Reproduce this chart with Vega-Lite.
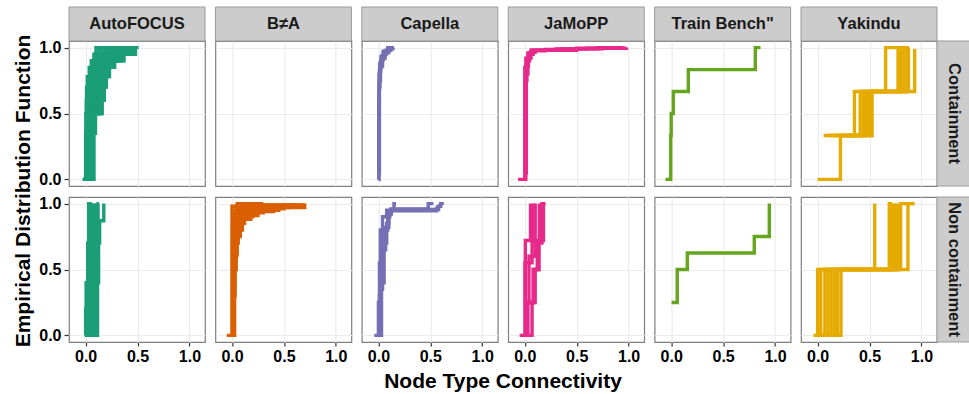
{
"$schema": "https://vega.github.io/schema/vega-lite/v6.json",
"background": "white",
"padding": {"left": 12, "top": 5, "right": 0, "bottom": 0},
"config": {"font": "Liberation Sans", "view": {"stroke": "#7f7f7f", "strokeWidth": 1.2}},
"data": {"values": [
{"m":"AutoFOCUS","t":"Containment","k":"c"},
{"m":"B≠A","t":"Containment","k":"c"},
{"m":"Capella","t":"Containment","k":"c"},
{"m":"JaMoPP","t":"Containment","k":"c"},
{"m":"Train Bench\"","t":"Containment","k":"c"},
{"m":"Yakindu","t":"Containment","k":"c"},
{"m":"Yakindu","t":"Containment","k":"r"},
{"m":"Yakindu","t":"Non containment","k":"r"},
{"m":"AutoFOCUS","t":"Containment","k":"L"},
{"m":"AutoFOCUS","t":"Non containment","k":"B"},
{"m":"B≠A","t":"Non containment","k":"e"},

{"m":"AutoFOCUS","t":"Containment","s":"a0","x":-0.03,"y":0},
{"m":"AutoFOCUS","t":"Containment","s":"a0","x":0.0,"y":0.35},
{"m":"AutoFOCUS","t":"Containment","s":"a0","x":0.002,"y":0.5},
{"m":"AutoFOCUS","t":"Containment","s":"a0","x":0.006,"y":0.6},
{"m":"AutoFOCUS","t":"Containment","s":"a0","x":0.009,"y":0.7},
{"m":"AutoFOCUS","t":"Containment","s":"a0","x":0.016,"y":0.78},
{"m":"AutoFOCUS","t":"Containment","s":"a0","x":0.035,"y":0.85},
{"m":"AutoFOCUS","t":"Containment","s":"a0","x":0.055,"y":0.9},
{"m":"AutoFOCUS","t":"Containment","s":"a0","x":0.08,"y":0.95},
{"m":"AutoFOCUS","t":"Containment","s":"a0","x":0.1,"y":1},
{"m":"AutoFOCUS","t":"Containment","s":"a0","x":0.12,"y":1},
{"m":"AutoFOCUS","t":"Containment","s":"a0h","x":-0.025,"y":0},
{"m":"AutoFOCUS","t":"Containment","s":"a0h","x":0.006,"y":0.35},
{"m":"AutoFOCUS","t":"Containment","s":"a0h","x":0.009,"y":0.5},
{"m":"AutoFOCUS","t":"Containment","s":"a0h","x":0.018,"y":0.6},
{"m":"AutoFOCUS","t":"Containment","s":"a0h","x":0.022,"y":0.7},
{"m":"AutoFOCUS","t":"Containment","s":"a0h","x":0.03,"y":0.78},
{"m":"AutoFOCUS","t":"Containment","s":"a0h","x":0.05,"y":0.85},
{"m":"AutoFOCUS","t":"Containment","s":"a0h","x":0.072,"y":0.9},
{"m":"AutoFOCUS","t":"Containment","s":"a0h","x":0.102,"y":0.95},
{"m":"AutoFOCUS","t":"Containment","s":"a0h","x":0.129,"y":1},
{"m":"AutoFOCUS","t":"Containment","s":"a0h","x":0.149,"y":1},
{"m":"AutoFOCUS","t":"Containment","s":"a1","x":-0.02,"y":0},
{"m":"AutoFOCUS","t":"Containment","s":"a1","x":0.012,"y":0.35},
{"m":"AutoFOCUS","t":"Containment","s":"a1","x":0.016,"y":0.5},
{"m":"AutoFOCUS","t":"Containment","s":"a1","x":0.029,"y":0.6},
{"m":"AutoFOCUS","t":"Containment","s":"a1","x":0.035,"y":0.7},
{"m":"AutoFOCUS","t":"Containment","s":"a1","x":0.044,"y":0.78},
{"m":"AutoFOCUS","t":"Containment","s":"a1","x":0.064,"y":0.85},
{"m":"AutoFOCUS","t":"Containment","s":"a1","x":0.089,"y":0.9},
{"m":"AutoFOCUS","t":"Containment","s":"a1","x":0.124,"y":0.95},
{"m":"AutoFOCUS","t":"Containment","s":"a1","x":0.157,"y":1},
{"m":"AutoFOCUS","t":"Containment","s":"a1","x":0.179,"y":1},
{"m":"AutoFOCUS","t":"Containment","s":"a1h","x":-0.015,"y":0},
{"m":"AutoFOCUS","t":"Containment","s":"a1h","x":0.018,"y":0.35},
{"m":"AutoFOCUS","t":"Containment","s":"a1h","x":0.023,"y":0.5},
{"m":"AutoFOCUS","t":"Containment","s":"a1h","x":0.041,"y":0.6},
{"m":"AutoFOCUS","t":"Containment","s":"a1h","x":0.047,"y":0.7},
{"m":"AutoFOCUS","t":"Containment","s":"a1h","x":0.057,"y":0.78},
{"m":"AutoFOCUS","t":"Containment","s":"a1h","x":0.079,"y":0.85},
{"m":"AutoFOCUS","t":"Containment","s":"a1h","x":0.106,"y":0.9},
{"m":"AutoFOCUS","t":"Containment","s":"a1h","x":0.145,"y":0.95},
{"m":"AutoFOCUS","t":"Containment","s":"a1h","x":0.186,"y":1},
{"m":"AutoFOCUS","t":"Containment","s":"a1h","x":0.208,"y":1},
{"m":"AutoFOCUS","t":"Containment","s":"a2","x":-0.01,"y":0},
{"m":"AutoFOCUS","t":"Containment","s":"a2","x":0.024,"y":0.35},
{"m":"AutoFOCUS","t":"Containment","s":"a2","x":0.03,"y":0.5},
{"m":"AutoFOCUS","t":"Containment","s":"a2","x":0.052,"y":0.6},
{"m":"AutoFOCUS","t":"Containment","s":"a2","x":0.06,"y":0.7},
{"m":"AutoFOCUS","t":"Containment","s":"a2","x":0.071,"y":0.78},
{"m":"AutoFOCUS","t":"Containment","s":"a2","x":0.094,"y":0.85},
{"m":"AutoFOCUS","t":"Containment","s":"a2","x":0.123,"y":0.9},
{"m":"AutoFOCUS","t":"Containment","s":"a2","x":0.167,"y":0.95},
{"m":"AutoFOCUS","t":"Containment","s":"a2","x":0.214,"y":1},
{"m":"AutoFOCUS","t":"Containment","s":"a2","x":0.237,"y":1},
{"m":"AutoFOCUS","t":"Containment","s":"a2h","x":-0.005,"y":0},
{"m":"AutoFOCUS","t":"Containment","s":"a2h","x":0.03,"y":0.35},
{"m":"AutoFOCUS","t":"Containment","s":"a2h","x":0.037,"y":0.5},
{"m":"AutoFOCUS","t":"Containment","s":"a2h","x":0.064,"y":0.6},
{"m":"AutoFOCUS","t":"Containment","s":"a2h","x":0.073,"y":0.7},
{"m":"AutoFOCUS","t":"Containment","s":"a2h","x":0.085,"y":0.78},
{"m":"AutoFOCUS","t":"Containment","s":"a2h","x":0.108,"y":0.85},
{"m":"AutoFOCUS","t":"Containment","s":"a2h","x":0.139,"y":0.9},
{"m":"AutoFOCUS","t":"Containment","s":"a2h","x":0.189,"y":0.95},
{"m":"AutoFOCUS","t":"Containment","s":"a2h","x":0.243,"y":1},
{"m":"AutoFOCUS","t":"Containment","s":"a2h","x":0.266,"y":1},
{"m":"AutoFOCUS","t":"Containment","s":"a3","x":0.0,"y":0},
{"m":"AutoFOCUS","t":"Containment","s":"a3","x":0.036,"y":0.35},
{"m":"AutoFOCUS","t":"Containment","s":"a3","x":0.044,"y":0.5},
{"m":"AutoFOCUS","t":"Containment","s":"a3","x":0.075,"y":0.6},
{"m":"AutoFOCUS","t":"Containment","s":"a3","x":0.086,"y":0.7},
{"m":"AutoFOCUS","t":"Containment","s":"a3","x":0.099,"y":0.78},
{"m":"AutoFOCUS","t":"Containment","s":"a3","x":0.123,"y":0.85},
{"m":"AutoFOCUS","t":"Containment","s":"a3","x":0.156,"y":0.9},
{"m":"AutoFOCUS","t":"Containment","s":"a3","x":0.211,"y":0.95},
{"m":"AutoFOCUS","t":"Containment","s":"a3","x":0.271,"y":1},
{"m":"AutoFOCUS","t":"Containment","s":"a3","x":0.296,"y":1},
{"m":"AutoFOCUS","t":"Containment","s":"a3h","x":0.002,"y":0},
{"m":"AutoFOCUS","t":"Containment","s":"a3h","x":0.042,"y":0.35},
{"m":"AutoFOCUS","t":"Containment","s":"a3h","x":0.051,"y":0.5},
{"m":"AutoFOCUS","t":"Containment","s":"a3h","x":0.087,"y":0.6},
{"m":"AutoFOCUS","t":"Containment","s":"a3h","x":0.099,"y":0.7},
{"m":"AutoFOCUS","t":"Containment","s":"a3h","x":0.113,"y":0.78},
{"m":"AutoFOCUS","t":"Containment","s":"a3h","x":0.137,"y":0.85},
{"m":"AutoFOCUS","t":"Containment","s":"a3h","x":0.173,"y":0.9},
{"m":"AutoFOCUS","t":"Containment","s":"a3h","x":0.232,"y":0.95},
{"m":"AutoFOCUS","t":"Containment","s":"a3h","x":0.3,"y":1},
{"m":"AutoFOCUS","t":"Containment","s":"a3h","x":0.325,"y":1},
{"m":"AutoFOCUS","t":"Containment","s":"a4","x":0.005,"y":0},
{"m":"AutoFOCUS","t":"Containment","s":"a4","x":0.048,"y":0.35},
{"m":"AutoFOCUS","t":"Containment","s":"a4","x":0.058,"y":0.5},
{"m":"AutoFOCUS","t":"Containment","s":"a4","x":0.098,"y":0.6},
{"m":"AutoFOCUS","t":"Containment","s":"a4","x":0.112,"y":0.7},
{"m":"AutoFOCUS","t":"Containment","s":"a4","x":0.126,"y":0.78},
{"m":"AutoFOCUS","t":"Containment","s":"a4","x":0.152,"y":0.85},
{"m":"AutoFOCUS","t":"Containment","s":"a4","x":0.19,"y":0.9},
{"m":"AutoFOCUS","t":"Containment","s":"a4","x":0.254,"y":0.95},
{"m":"AutoFOCUS","t":"Containment","s":"a4","x":0.328,"y":1},
{"m":"AutoFOCUS","t":"Containment","s":"a4","x":0.354,"y":1},
{"m":"AutoFOCUS","t":"Containment","s":"a4h","x":0.008,"y":0},
{"m":"AutoFOCUS","t":"Containment","s":"a4h","x":0.054,"y":0.35},
{"m":"AutoFOCUS","t":"Containment","s":"a4h","x":0.065,"y":0.5},
{"m":"AutoFOCUS","t":"Containment","s":"a4h","x":0.11,"y":0.6},
{"m":"AutoFOCUS","t":"Containment","s":"a4h","x":0.124,"y":0.7},
{"m":"AutoFOCUS","t":"Containment","s":"a4h","x":0.14,"y":0.78},
{"m":"AutoFOCUS","t":"Containment","s":"a4h","x":0.167,"y":0.85},
{"m":"AutoFOCUS","t":"Containment","s":"a4h","x":0.207,"y":0.9},
{"m":"AutoFOCUS","t":"Containment","s":"a4h","x":0.276,"y":0.95},
{"m":"AutoFOCUS","t":"Containment","s":"a4h","x":0.357,"y":1},
{"m":"AutoFOCUS","t":"Containment","s":"a4h","x":0.383,"y":1},
{"m":"AutoFOCUS","t":"Containment","s":"a5","x":0.01,"y":0},
{"m":"AutoFOCUS","t":"Containment","s":"a5","x":0.06,"y":0.35},
{"m":"AutoFOCUS","t":"Containment","s":"a5","x":0.072,"y":0.5},
{"m":"AutoFOCUS","t":"Containment","s":"a5","x":0.122,"y":0.6},
{"m":"AutoFOCUS","t":"Containment","s":"a5","x":0.137,"y":0.7},
{"m":"AutoFOCUS","t":"Containment","s":"a5","x":0.154,"y":0.78},
{"m":"AutoFOCUS","t":"Containment","s":"a5","x":0.181,"y":0.85},
{"m":"AutoFOCUS","t":"Containment","s":"a5","x":0.224,"y":0.9},
{"m":"AutoFOCUS","t":"Containment","s":"a5","x":0.298,"y":0.95},
{"m":"AutoFOCUS","t":"Containment","s":"a5","x":0.385,"y":1},
{"m":"AutoFOCUS","t":"Containment","s":"a5","x":0.413,"y":1},
{"m":"AutoFOCUS","t":"Containment","s":"a5h","x":0.015,"y":0},
{"m":"AutoFOCUS","t":"Containment","s":"a5h","x":0.066,"y":0.35},
{"m":"AutoFOCUS","t":"Containment","s":"a5h","x":0.079,"y":0.5},
{"m":"AutoFOCUS","t":"Containment","s":"a5h","x":0.133,"y":0.6},
{"m":"AutoFOCUS","t":"Containment","s":"a5h","x":0.15,"y":0.7},
{"m":"AutoFOCUS","t":"Containment","s":"a5h","x":0.168,"y":0.78},
{"m":"AutoFOCUS","t":"Containment","s":"a5h","x":0.196,"y":0.85},
{"m":"AutoFOCUS","t":"Containment","s":"a5h","x":0.241,"y":0.9},
{"m":"AutoFOCUS","t":"Containment","s":"a5h","x":0.319,"y":0.95},
{"m":"AutoFOCUS","t":"Containment","s":"a5h","x":0.414,"y":1},
{"m":"AutoFOCUS","t":"Containment","s":"a5h","x":0.442,"y":1},
{"m":"AutoFOCUS","t":"Containment","s":"a6","x":0.02,"y":0},
{"m":"AutoFOCUS","t":"Containment","s":"a6","x":0.072,"y":0.35},
{"m":"AutoFOCUS","t":"Containment","s":"a6","x":0.086,"y":0.5},
{"m":"AutoFOCUS","t":"Containment","s":"a6","x":0.145,"y":0.6},
{"m":"AutoFOCUS","t":"Containment","s":"a6","x":0.163,"y":0.7},
{"m":"AutoFOCUS","t":"Containment","s":"a6","x":0.182,"y":0.78},
{"m":"AutoFOCUS","t":"Containment","s":"a6","x":0.211,"y":0.85},
{"m":"AutoFOCUS","t":"Containment","s":"a6","x":0.258,"y":0.9},
{"m":"AutoFOCUS","t":"Containment","s":"a6","x":0.341,"y":0.95},
{"m":"AutoFOCUS","t":"Containment","s":"a6","x":0.442,"y":1},
{"m":"AutoFOCUS","t":"Containment","s":"a6","x":0.471,"y":1},
{"m":"AutoFOCUS","t":"Containment","s":"a6h","x":0.025,"y":0},
{"m":"AutoFOCUS","t":"Containment","s":"a6h","x":0.076,"y":0.35},
{"m":"AutoFOCUS","t":"Containment","s":"a6h","x":0.09,"y":0.5},
{"m":"AutoFOCUS","t":"Containment","s":"a6h","x":0.152,"y":0.6},
{"m":"AutoFOCUS","t":"Containment","s":"a6h","x":0.171,"y":0.7},
{"m":"AutoFOCUS","t":"Containment","s":"a6h","x":0.191,"y":0.78},
{"m":"AutoFOCUS","t":"Containment","s":"a6h","x":0.22,"y":0.85},
{"m":"AutoFOCUS","t":"Containment","s":"a6h","x":0.269,"y":0.9},
{"m":"AutoFOCUS","t":"Containment","s":"a6h","x":0.356,"y":0.95},
{"m":"AutoFOCUS","t":"Containment","s":"a6h","x":0.461,"y":1},
{"m":"AutoFOCUS","t":"Containment","s":"a6h","x":0.491,"y":1},
{"m":"AutoFOCUS","t":"Containment","s":"a7","x":0.03,"y":0},
{"m":"AutoFOCUS","t":"Containment","s":"a7","x":0.08,"y":0.35},
{"m":"AutoFOCUS","t":"Containment","s":"a7","x":0.095,"y":0.5},
{"m":"AutoFOCUS","t":"Containment","s":"a7","x":0.16,"y":0.6},
{"m":"AutoFOCUS","t":"Containment","s":"a7","x":0.18,"y":0.7},
{"m":"AutoFOCUS","t":"Containment","s":"a7","x":0.2,"y":0.78},
{"m":"AutoFOCUS","t":"Containment","s":"a7","x":0.23,"y":0.85},
{"m":"AutoFOCUS","t":"Containment","s":"a7","x":0.28,"y":0.9},
{"m":"AutoFOCUS","t":"Containment","s":"a7","x":0.37,"y":0.95},
{"m":"AutoFOCUS","t":"Containment","s":"a7","x":0.48,"y":1},
{"m":"AutoFOCUS","t":"Containment","s":"a7","x":0.51,"y":1},

{"m":"AutoFOCUS","t":"Non containment","s":"b1","x":-0.01,"y":0},
{"m":"AutoFOCUS","t":"Non containment","s":"b1","x":0.0,"y":0.2},
{"m":"AutoFOCUS","t":"Non containment","s":"b1","x":0.005,"y":0.4},
{"m":"AutoFOCUS","t":"Non containment","s":"b1","x":0.02,"y":0.7},
{"m":"AutoFOCUS","t":"Non containment","s":"b1","x":0.03,"y":1},
{"m":"AutoFOCUS","t":"Non containment","s":"b1","x":0.06,"y":1},
{"m":"AutoFOCUS","t":"Non containment","s":"b2","x":0.0,"y":0},
{"m":"AutoFOCUS","t":"Non containment","s":"b2","x":0.012,"y":0.3},
{"m":"AutoFOCUS","t":"Non containment","s":"b2","x":0.028,"y":0.6},
{"m":"AutoFOCUS","t":"Non containment","s":"b2","x":0.045,"y":1},
{"m":"AutoFOCUS","t":"Non containment","s":"b3","x":0.02,"y":0},
{"m":"AutoFOCUS","t":"Non containment","s":"b3","x":0.03,"y":0.25},
{"m":"AutoFOCUS","t":"Non containment","s":"b3","x":0.05,"y":0.55},
{"m":"AutoFOCUS","t":"Non containment","s":"b3","x":0.06,"y":0.8},
{"m":"AutoFOCUS","t":"Non containment","s":"b3","x":0.07,"y":1},
{"m":"AutoFOCUS","t":"Non containment","s":"b4","x":0.03,"y":0},
{"m":"AutoFOCUS","t":"Non containment","s":"b4","x":0.045,"y":0.3},
{"m":"AutoFOCUS","t":"Non containment","s":"b4","x":0.065,"y":0.6},
{"m":"AutoFOCUS","t":"Non containment","s":"b4","x":0.082,"y":1},
{"m":"AutoFOCUS","t":"Non containment","s":"b5","x":0.05,"y":0},
{"m":"AutoFOCUS","t":"Non containment","s":"b5","x":0.065,"y":0.3},
{"m":"AutoFOCUS","t":"Non containment","s":"b5","x":0.088,"y":0.65},
{"m":"AutoFOCUS","t":"Non containment","s":"b5","x":0.1,"y":1},
{"m":"AutoFOCUS","t":"Non containment","s":"b6","x":0.07,"y":0},
{"m":"AutoFOCUS","t":"Non containment","s":"b6","x":0.09,"y":0.25},
{"m":"AutoFOCUS","t":"Non containment","s":"b6","x":0.108,"y":0.7},
{"m":"AutoFOCUS","t":"Non containment","s":"b6","x":0.12,"y":1},
{"m":"AutoFOCUS","t":"Non containment","s":"b6","x":0.13,"y":1},
{"m":"AutoFOCUS","t":"Non containment","s":"b7","x":0.09,"y":0},
{"m":"AutoFOCUS","t":"Non containment","s":"b7","x":0.115,"y":0.4},
{"m":"AutoFOCUS","t":"Non containment","s":"b7","x":0.125,"y":0.7},
{"m":"AutoFOCUS","t":"Non containment","s":"b7","x":0.135,"y":0.87},
{"m":"AutoFOCUS","t":"Non containment","s":"b7","x":0.175,"y":1},
{"m":"AutoFOCUS","t":"Non containment","s":"b8","x":0.01,"y":0},
{"m":"AutoFOCUS","t":"Non containment","s":"b8","x":0.022,"y":0.35},
{"m":"AutoFOCUS","t":"Non containment","s":"b8","x":0.04,"y":0.65},
{"m":"AutoFOCUS","t":"Non containment","s":"b8","x":0.055,"y":1},
{"m":"AutoFOCUS","t":"Non containment","s":"b9","x":0.06,"y":0},
{"m":"AutoFOCUS","t":"Non containment","s":"b9","x":0.078,"y":0.35},
{"m":"AutoFOCUS","t":"Non containment","s":"b9","x":0.097,"y":0.6},
{"m":"AutoFOCUS","t":"Non containment","s":"b9","x":0.11,"y":1},

{"m":"B≠A","t":"Non containment","s":"c1","x":-0.05,"y":0},
{"m":"B≠A","t":"Non containment","s":"c1","x":0.0,"y":0.98},
{"m":"B≠A","t":"Non containment","s":"c1","x":0.05,"y":1},
{"m":"B≠A","t":"Non containment","s":"c1","x":0.3,"y":1},
{"m":"B≠A","t":"Non containment","s":"c2","x":0.0,"y":0},
{"m":"B≠A","t":"Non containment","s":"c2","x":0.01,"y":0.5},
{"m":"B≠A","t":"Non containment","s":"c2","x":0.02,"y":0.8},
{"m":"B≠A","t":"Non containment","s":"c2","x":0.04,"y":0.93},
{"m":"B≠A","t":"Non containment","s":"c2","x":0.1,"y":0.97},
{"m":"B≠A","t":"Non containment","s":"c2","x":0.3,"y":0.99},
{"m":"B≠A","t":"Non containment","s":"c2","x":0.5,"y":1},
{"m":"B≠A","t":"Non containment","s":"c3","x":0.005,"y":0},
{"m":"B≠A","t":"Non containment","s":"c3","x":0.015,"y":0.4},
{"m":"B≠A","t":"Non containment","s":"c3","x":0.025,"y":0.7},
{"m":"B≠A","t":"Non containment","s":"c3","x":0.04,"y":0.85},
{"m":"B≠A","t":"Non containment","s":"c3","x":0.07,"y":0.92},
{"m":"B≠A","t":"Non containment","s":"c3","x":0.15,"y":0.96},
{"m":"B≠A","t":"Non containment","s":"c3","x":0.35,"y":0.98},
{"m":"B≠A","t":"Non containment","s":"c3","x":0.6,"y":1},
{"m":"B≠A","t":"Non containment","s":"c4","x":0.01,"y":0},
{"m":"B≠A","t":"Non containment","s":"c4","x":0.015,"y":0.3},
{"m":"B≠A","t":"Non containment","s":"c4","x":0.03,"y":0.62},
{"m":"B≠A","t":"Non containment","s":"c4","x":0.05,"y":0.75},
{"m":"B≠A","t":"Non containment","s":"c4","x":0.08,"y":0.85},
{"m":"B≠A","t":"Non containment","s":"c4","x":0.12,"y":0.9},
{"m":"B≠A","t":"Non containment","s":"c4","x":0.2,"y":0.94},
{"m":"B≠A","t":"Non containment","s":"c4","x":0.4,"y":0.97},
{"m":"B≠A","t":"Non containment","s":"c4","x":0.7,"y":1},
{"m":"B≠A","t":"Non containment","s":"c5","x":0.012,"y":0},
{"m":"B≠A","t":"Non containment","s":"c5","x":0.02,"y":0.5},
{"m":"B≠A","t":"Non containment","s":"c5","x":0.04,"y":0.7},
{"m":"B≠A","t":"Non containment","s":"c5","x":0.06,"y":0.8},
{"m":"B≠A","t":"Non containment","s":"c5","x":0.1,"y":0.88},
{"m":"B≠A","t":"Non containment","s":"c5","x":0.18,"y":0.93},
{"m":"B≠A","t":"Non containment","s":"c5","x":0.3,"y":0.96},
{"m":"B≠A","t":"Non containment","s":"c5","x":0.5,"y":0.98},
{"m":"B≠A","t":"Non containment","s":"c5","x":0.65,"y":1},
{"m":"B≠A","t":"Non containment","s":"c6","x":0.004,"y":0},
{"m":"B≠A","t":"Non containment","s":"c6","x":0.01,"y":0.6},
{"m":"B≠A","t":"Non containment","s":"c6","x":0.02,"y":0.85},
{"m":"B≠A","t":"Non containment","s":"c6","x":0.03,"y":0.9},
{"m":"B≠A","t":"Non containment","s":"c6","x":0.06,"y":0.95},
{"m":"B≠A","t":"Non containment","s":"c6","x":0.2,"y":0.98},
{"m":"B≠A","t":"Non containment","s":"c6","x":0.45,"y":0.99},
{"m":"B≠A","t":"Non containment","s":"c6","x":0.55,"y":1},
{"m":"B≠A","t":"Non containment","s":"c7","x":0.0,"y":0},
{"m":"B≠A","t":"Non containment","s":"c7","x":0.005,"y":0.7},
{"m":"B≠A","t":"Non containment","s":"c7","x":0.01,"y":0.9},
{"m":"B≠A","t":"Non containment","s":"c7","x":0.03,"y":0.95},
{"m":"B≠A","t":"Non containment","s":"c7","x":0.1,"y":0.98},
{"m":"B≠A","t":"Non containment","s":"c7","x":0.25,"y":1},
{"m":"B≠A","t":"Non containment","s":"c8","x":0.002,"y":0},
{"m":"B≠A","t":"Non containment","s":"c8","x":0.008,"y":0.55},
{"m":"B≠A","t":"Non containment","s":"c8","x":0.015,"y":0.78},
{"m":"B≠A","t":"Non containment","s":"c8","x":0.03,"y":0.88},
{"m":"B≠A","t":"Non containment","s":"c8","x":0.05,"y":0.93},
{"m":"B≠A","t":"Non containment","s":"c8","x":0.12,"y":0.96},
{"m":"B≠A","t":"Non containment","s":"c8","x":0.28,"y":0.98},
{"m":"B≠A","t":"Non containment","s":"c8","x":0.5,"y":0.99},
{"m":"B≠A","t":"Non containment","s":"c8","x":0.6,"y":1},
{"m":"B≠A","t":"Non containment","s":"c9","x":0.006,"y":0},
{"m":"B≠A","t":"Non containment","s":"c9","x":0.012,"y":0.45},
{"m":"B≠A","t":"Non containment","s":"c9","x":0.022,"y":0.72},
{"m":"B≠A","t":"Non containment","s":"c9","x":0.035,"y":0.82},
{"m":"B≠A","t":"Non containment","s":"c9","x":0.06,"y":0.89},
{"m":"B≠A","t":"Non containment","s":"c9","x":0.09,"y":0.93},
{"m":"B≠A","t":"Non containment","s":"c9","x":0.16,"y":0.955},
{"m":"B≠A","t":"Non containment","s":"c9","x":0.4,"y":0.985},
{"m":"B≠A","t":"Non containment","s":"c9","x":0.68,"y":1},
{"m":"B≠A","t":"Non containment","s":"c10","x":0.008,"y":0},
{"m":"B≠A","t":"Non containment","s":"c10","x":0.018,"y":0.5},
{"m":"B≠A","t":"Non containment","s":"c10","x":0.035,"y":0.68},
{"m":"B≠A","t":"Non containment","s":"c10","x":0.045,"y":0.78},
{"m":"B≠A","t":"Non containment","s":"c10","x":0.07,"y":0.86},
{"m":"B≠A","t":"Non containment","s":"c10","x":0.1,"y":0.91},
{"m":"B≠A","t":"Non containment","s":"c10","x":0.25,"y":0.95},
{"m":"B≠A","t":"Non containment","s":"c10","x":0.45,"y":0.975},
{"m":"B≠A","t":"Non containment","s":"c10","x":0.62,"y":1},
{"m":"B≠A","t":"Non containment","s":"c11","x":0.003,"y":0},
{"m":"B≠A","t":"Non containment","s":"c11","x":0.006,"y":0.8},
{"m":"B≠A","t":"Non containment","s":"c11","x":0.015,"y":0.92},
{"m":"B≠A","t":"Non containment","s":"c11","x":0.04,"y":0.96},
{"m":"B≠A","t":"Non containment","s":"c11","x":0.08,"y":0.975},
{"m":"B≠A","t":"Non containment","s":"c11","x":0.3,"y":0.99},
{"m":"B≠A","t":"Non containment","s":"c11","x":0.4,"y":1},
{"m":"B≠A","t":"Non containment","s":"c12","x":0.011,"y":0},
{"m":"B≠A","t":"Non containment","s":"c12","x":0.025,"y":0.6},
{"m":"B≠A","t":"Non containment","s":"c12","x":0.045,"y":0.78},
{"m":"B≠A","t":"Non containment","s":"c12","x":0.065,"y":0.84},
{"m":"B≠A","t":"Non containment","s":"c12","x":0.09,"y":0.9},
{"m":"B≠A","t":"Non containment","s":"c12","x":0.14,"y":0.93},
{"m":"B≠A","t":"Non containment","s":"c12","x":0.22,"y":0.955},
{"m":"B≠A","t":"Non containment","s":"c12","x":0.35,"y":0.97},
{"m":"B≠A","t":"Non containment","s":"c12","x":0.55,"y":0.99},
{"m":"B≠A","t":"Non containment","s":"c12","x":0.69,"y":1},

{"m":"Capella","t":"Containment","s":"d1","x":0.0,"y":0},
{"m":"Capella","t":"Containment","s":"d1","x":0.003,"y":0.6},
{"m":"Capella","t":"Containment","s":"d1","x":0.006,"y":0.8},
{"m":"Capella","t":"Containment","s":"d1","x":0.012,"y":0.88},
{"m":"Capella","t":"Containment","s":"d1","x":0.025,"y":0.93},
{"m":"Capella","t":"Containment","s":"d1","x":0.045,"y":0.97},
{"m":"Capella","t":"Containment","s":"d1","x":0.09,"y":1},
{"m":"Capella","t":"Containment","s":"d1","x":0.12,"y":1},
{"m":"Capella","t":"Containment","s":"d2","x":0.003,"y":0},
{"m":"Capella","t":"Containment","s":"d2","x":0.006,"y":0.7},
{"m":"Capella","t":"Containment","s":"d2","x":0.015,"y":0.85},
{"m":"Capella","t":"Containment","s":"d2","x":0.03,"y":0.91},
{"m":"Capella","t":"Containment","s":"d2","x":0.05,"y":0.95},
{"m":"Capella","t":"Containment","s":"d2","x":0.075,"y":0.98},
{"m":"Capella","t":"Containment","s":"d2","x":0.12,"y":1},
{"m":"Capella","t":"Containment","s":"d2","x":0.15,"y":1},
{"m":"Capella","t":"Containment","s":"d3","x":0.004,"y":0.2},
{"m":"Capella","t":"Containment","s":"d3","x":0.008,"y":0.75},
{"m":"Capella","t":"Containment","s":"d3","x":0.02,"y":0.86},
{"m":"Capella","t":"Containment","s":"d3","x":0.04,"y":0.92},
{"m":"Capella","t":"Containment","s":"d3","x":0.065,"y":0.96},
{"m":"Capella","t":"Containment","s":"d3","x":0.1,"y":0.99},
{"m":"Capella","t":"Containment","s":"d3","x":0.14,"y":1},
{"m":"Capella","t":"Containment","s":"d4","x":0.001,"y":0.05},
{"m":"Capella","t":"Containment","s":"d4","x":0.01,"y":0.82},
{"m":"Capella","t":"Containment","s":"d4","x":0.022,"y":0.9},
{"m":"Capella","t":"Containment","s":"d4","x":0.035,"y":0.94},
{"m":"Capella","t":"Containment","s":"d4","x":0.06,"y":0.975},
{"m":"Capella","t":"Containment","s":"d4","x":0.1,"y":1},

{"m":"Capella","t":"Non containment","s":"e1","x":-0.04,"y":0},
{"m":"Capella","t":"Non containment","s":"e1","x":0.0,"y":0.25},
{"m":"Capella","t":"Non containment","s":"e1","x":0.01,"y":0.55},
{"m":"Capella","t":"Non containment","s":"e1","x":0.018,"y":0.8},
{"m":"Capella","t":"Non containment","s":"e1","x":0.04,"y":0.9},
{"m":"Capella","t":"Non containment","s":"e1","x":0.08,"y":0.95},
{"m":"Capella","t":"Non containment","s":"e1","x":0.15,"y":1},
{"m":"Capella","t":"Non containment","s":"e1","x":0.17,"y":1},
{"m":"Capella","t":"Non containment","s":"e2","x":0.0,"y":0},
{"m":"Capella","t":"Non containment","s":"e2","x":0.01,"y":0.3},
{"m":"Capella","t":"Non containment","s":"e2","x":0.025,"y":0.6},
{"m":"Capella","t":"Non containment","s":"e2","x":0.05,"y":0.8},
{"m":"Capella","t":"Non containment","s":"e2","x":0.09,"y":0.93},
{"m":"Capella","t":"Non containment","s":"e2","x":0.12,"y":0.96},
{"m":"Capella","t":"Non containment","s":"e2","x":0.48,"y":1},
{"m":"Capella","t":"Non containment","s":"e2","x":0.53,"y":1},
{"m":"Capella","t":"Non containment","s":"e3","x":0.005,"y":0},
{"m":"Capella","t":"Non containment","s":"e3","x":0.02,"y":0.35},
{"m":"Capella","t":"Non containment","s":"e3","x":0.04,"y":0.65},
{"m":"Capella","t":"Non containment","s":"e3","x":0.07,"y":0.82},
{"m":"Capella","t":"Non containment","s":"e3","x":0.1,"y":0.92},
{"m":"Capella","t":"Non containment","s":"e3","x":0.125,"y":0.955},
{"m":"Capella","t":"Non containment","s":"e3","x":0.58,"y":0.98},
{"m":"Capella","t":"Non containment","s":"e3","x":0.6,"y":1},
{"m":"Capella","t":"Non containment","s":"e3","x":0.63,"y":1},
{"m":"Capella","t":"Non containment","s":"e4","x":0.01,"y":0},
{"m":"Capella","t":"Non containment","s":"e4","x":0.03,"y":0.4},
{"m":"Capella","t":"Non containment","s":"e4","x":0.055,"y":0.7},
{"m":"Capella","t":"Non containment","s":"e4","x":0.08,"y":0.85},
{"m":"Capella","t":"Non containment","s":"e4","x":0.1,"y":0.9},
{"m":"Capella","t":"Non containment","s":"e4","x":0.11,"y":0.945},
{"m":"Capella","t":"Non containment","s":"e4","x":0.56,"y":0.965},
{"m":"Capella","t":"Non containment","s":"e4","x":0.575,"y":0.99},

{"m":"JaMoPP","t":"Containment","s":"f1","x":-0.065,"y":0},
{"m":"JaMoPP","t":"Containment","s":"f1","x":0.0,"y":0.85},
{"m":"JaMoPP","t":"Containment","s":"f1","x":0.01,"y":0.92},
{"m":"JaMoPP","t":"Containment","s":"f1","x":0.03,"y":0.96},
{"m":"JaMoPP","t":"Containment","s":"f1","x":0.06,"y":0.98},
{"m":"JaMoPP","t":"Containment","s":"f1","x":0.3,"y":0.99},
{"m":"JaMoPP","t":"Containment","s":"f1","x":0.6,"y":0.995},
{"m":"JaMoPP","t":"Containment","s":"f1","x":0.98,"y":1},
{"m":"JaMoPP","t":"Containment","s":"f2","x":0.001,"y":0},
{"m":"JaMoPP","t":"Containment","s":"f2","x":0.005,"y":0.75},
{"m":"JaMoPP","t":"Containment","s":"f2","x":0.02,"y":0.9},
{"m":"JaMoPP","t":"Containment","s":"f2","x":0.045,"y":0.95},
{"m":"JaMoPP","t":"Containment","s":"f2","x":0.08,"y":0.975},
{"m":"JaMoPP","t":"Containment","s":"f2","x":0.2,"y":0.985},
{"m":"JaMoPP","t":"Containment","s":"f2","x":0.45,"y":0.99},
{"m":"JaMoPP","t":"Containment","s":"f2","x":0.75,"y":1},
{"m":"JaMoPP","t":"Containment","s":"f3","x":0.002,"y":0},
{"m":"JaMoPP","t":"Containment","s":"f3","x":0.01,"y":0.8},
{"m":"JaMoPP","t":"Containment","s":"f3","x":0.03,"y":0.92},
{"m":"JaMoPP","t":"Containment","s":"f3","x":0.06,"y":0.965},
{"m":"JaMoPP","t":"Containment","s":"f3","x":0.1,"y":0.98},
{"m":"JaMoPP","t":"Containment","s":"f3","x":0.5,"y":0.995},
{"m":"JaMoPP","t":"Containment","s":"f3","x":0.85,"y":1},
{"m":"JaMoPP","t":"Containment","s":"f4","x":0.003,"y":0.05},
{"m":"JaMoPP","t":"Containment","s":"f4","x":0.015,"y":0.86},
{"m":"JaMoPP","t":"Containment","s":"f4","x":0.035,"y":0.94},
{"m":"JaMoPP","t":"Containment","s":"f4","x":0.05,"y":0.96},
{"m":"JaMoPP","t":"Containment","s":"f4","x":0.07,"y":0.98},
{"m":"JaMoPP","t":"Containment","s":"f4","x":0.35,"y":0.99},
{"m":"JaMoPP","t":"Containment","s":"f4","x":0.7,"y":1},
{"m":"JaMoPP","t":"Containment","s":"f4","x":0.95,"y":1},

{"m":"JaMoPP","t":"Non containment","s":"g1","x":-0.05,"y":0},
{"m":"JaMoPP","t":"Non containment","s":"g1","x":0.005,"y":0.72},
{"m":"JaMoPP","t":"Non containment","s":"g1","x":0.055,"y":1},
{"m":"JaMoPP","t":"Non containment","s":"g2","x":0.0,"y":0},
{"m":"JaMoPP","t":"Non containment","s":"g2","x":0.015,"y":0.25},
{"m":"JaMoPP","t":"Non containment","s":"g2","x":0.04,"y":0.55},
{"m":"JaMoPP","t":"Non containment","s":"g2","x":0.07,"y":0.72},
{"m":"JaMoPP","t":"Non containment","s":"g2","x":0.085,"y":1},
{"m":"JaMoPP","t":"Non containment","s":"g3","x":0.01,"y":0},
{"m":"JaMoPP","t":"Non containment","s":"g3","x":0.02,"y":0.25},
{"m":"JaMoPP","t":"Non containment","s":"g3","x":0.08,"y":0.5},
{"m":"JaMoPP","t":"Non containment","s":"g3","x":0.135,"y":0.7},
{"m":"JaMoPP","t":"Non containment","s":"g3","x":0.165,"y":1},
{"m":"JaMoPP","t":"Non containment","s":"g3","x":0.2,"y":1},
{"m":"JaMoPP","t":"Non containment","s":"g4","x":0.015,"y":0},
{"m":"JaMoPP","t":"Non containment","s":"g4","x":0.07,"y":0.25},
{"m":"JaMoPP","t":"Non containment","s":"g4","x":0.1,"y":0.5},
{"m":"JaMoPP","t":"Non containment","s":"g4","x":0.12,"y":0.72},
{"m":"JaMoPP","t":"Non containment","s":"g4","x":0.14,"y":1},
{"m":"JaMoPP","t":"Non containment","s":"g5","x":0.005,"y":0},
{"m":"JaMoPP","t":"Non containment","s":"g5","x":0.03,"y":0.25},
{"m":"JaMoPP","t":"Non containment","s":"g5","x":0.09,"y":0.5},
{"m":"JaMoPP","t":"Non containment","s":"g5","x":0.135,"y":0.72},
{"m":"JaMoPP","t":"Non containment","s":"g5","x":0.18,"y":1},
{"m":"JaMoPP","t":"Non containment","s":"g6","x":0.0,"y":0},
{"m":"JaMoPP","t":"Non containment","s":"g6","x":0.002,"y":0.55},
{"m":"JaMoPP","t":"Non containment","s":"g6","x":0.04,"y":0.6},
{"m":"JaMoPP","t":"Non containment","s":"g6","x":0.1,"y":1},

{"m":"Train Bench\"","t":"Containment","s":"h1","x":-0.055,"y":0},
{"m":"Train Bench\"","t":"Containment","s":"h1","x":-0.005,"y":0.333},
{"m":"Train Bench\"","t":"Containment","s":"h1","x":0.0,"y":0.5},
{"m":"Train Bench\"","t":"Containment","s":"h1","x":0.02,"y":0.667},
{"m":"Train Bench\"","t":"Containment","s":"h1","x":0.165,"y":0.833},
{"m":"Train Bench\"","t":"Containment","s":"h1","x":0.81,"y":1},
{"m":"Train Bench\"","t":"Containment","s":"h1","x":0.86,"y":1},

{"m":"Train Bench\"","t":"Non containment","s":"i1","x":0.003,"y":0.25},
{"m":"Train Bench\"","t":"Non containment","s":"i1","x":0.058,"y":0.5},
{"m":"Train Bench\"","t":"Non containment","s":"i1","x":0.155,"y":0.625},
{"m":"Train Bench\"","t":"Non containment","s":"i1","x":0.8,"y":0.75},
{"m":"Train Bench\"","t":"Non containment","s":"i1","x":0.945,"y":1},

{"m":"Yakindu","t":"Containment","s":"y1","x":0.0,"y":0},
{"m":"Yakindu","t":"Containment","s":"y1","x":0.22,"y":0.333},
{"m":"Yakindu","t":"Containment","s":"y1","x":0.355,"y":0.667},
{"m":"Yakindu","t":"Containment","s":"y1","x":0.655,"y":1},
{"m":"Yakindu","t":"Containment","s":"y1","x":0.88,"y":1},
{"m":"Yakindu","t":"Containment","s":"y2","x":0.058,"y":0.333},
{"m":"Yakindu","t":"Containment","s":"y2","x":0.41,"y":0.667},
{"m":"Yakindu","t":"Containment","s":"y2","x":0.775,"y":1},
{"m":"Yakindu","t":"Containment","s":"y3","x":0.1,"y":0.333},
{"m":"Yakindu","t":"Containment","s":"y3","x":0.44,"y":0.667},
{"m":"Yakindu","t":"Containment","s":"y3","x":0.8,"y":1},
{"m":"Yakindu","t":"Containment","s":"y4","x":0.15,"y":0.333},
{"m":"Yakindu","t":"Containment","s":"y4","x":0.47,"y":0.667},
{"m":"Yakindu","t":"Containment","s":"y4","x":0.83,"y":1},
{"m":"Yakindu","t":"Containment","s":"y5","x":0.2,"y":0.333},
{"m":"Yakindu","t":"Containment","s":"y5","x":0.5,"y":0.667},
{"m":"Yakindu","t":"Containment","s":"y5","x":0.86,"y":1},
{"m":"Yakindu","t":"Containment","s":"y6","x":0.25,"y":0.333},
{"m":"Yakindu","t":"Containment","s":"y6","x":0.525,"y":0.667},
{"m":"Yakindu","t":"Containment","s":"y6","x":0.935,"y":0.99},
{"m":"Yakindu","t":"Containment","s":"y7","x":0.3,"y":0.333},
{"m":"Yakindu","t":"Containment","s":"y7","x":0.515,"y":0.667},
{"m":"Yakindu","t":"Containment","s":"y7","x":0.875,"y":1},

{"m":"Yakindu","t":"Non containment","s":"z1","x":-0.04,"y":0},
{"m":"Yakindu","t":"Non containment","s":"z1","x":0.0,"y":0.5},
{"m":"Yakindu","t":"Non containment","s":"z1","x":0.55,"y":1},
{"m":"Yakindu","t":"Non containment","s":"z2","x":0.0,"y":0},
{"m":"Yakindu","t":"Non containment","s":"z2","x":0.03,"y":0.5},
{"m":"Yakindu","t":"Non containment","s":"z2","x":0.69,"y":1},
{"m":"Yakindu","t":"Non containment","s":"z2","x":0.72,"y":1},
{"m":"Yakindu","t":"Non containment","s":"z3","x":0.0,"y":0},
{"m":"Yakindu","t":"Non containment","s":"z3","x":0.07,"y":0.5},
{"m":"Yakindu","t":"Non containment","s":"z3","x":0.72,"y":1},
{"m":"Yakindu","t":"Non containment","s":"z4","x":0.0,"y":0},
{"m":"Yakindu","t":"Non containment","s":"z4","x":0.1,"y":0.5},
{"m":"Yakindu","t":"Non containment","s":"z4","x":0.75,"y":1},
{"m":"Yakindu","t":"Non containment","s":"z5","x":0.0,"y":0},
{"m":"Yakindu","t":"Non containment","s":"z5","x":0.13,"y":0.5},
{"m":"Yakindu","t":"Non containment","s":"z5","x":0.78,"y":1},
{"m":"Yakindu","t":"Non containment","s":"z6","x":0.0,"y":0},
{"m":"Yakindu","t":"Non containment","s":"z6","x":0.16,"y":0.5},
{"m":"Yakindu","t":"Non containment","s":"z6","x":0.8,"y":1},
{"m":"Yakindu","t":"Non containment","s":"z6","x":0.93,"y":1},
{"m":"Yakindu","t":"Non containment","s":"z7","x":0.0,"y":0},
{"m":"Yakindu","t":"Non containment","s":"z7","x":0.19,"y":0.5},
{"m":"Yakindu","t":"Non containment","s":"z7","x":0.74,"y":1},
{"m":"Yakindu","t":"Non containment","s":"z8","x":0.0,"y":0},
{"m":"Yakindu","t":"Non containment","s":"z8","x":0.225,"y":0.5},
{"m":"Yakindu","t":"Non containment","s":"z8","x":0.87,"y":1},
{"m":"Yakindu","t":"Non containment","s":"z8","x":0.935,"y":1}
]},
"facet": {
  "column": {"field": "m", "type": "nominal", "sort": ["AutoFOCUS", "B≠A", "Capella", "JaMoPP", "Train Bench\"", "Yakindu"],
    "header": {"labels": false, "title": "Node Type Connectivity", "titleOrient": "bottom", "titleFont": "Liberation Sans", "titleFontSize": 21, "titleFontWeight": "bold", "titleColor": "#000000", "titlePadding": -3}},
  "row": {"field": "t", "type": "nominal", "sort": ["Containment", "Non containment"],
    "header": {"labels": false, "title": "Empirical Distribution Function", "titleOrient": "left", "titleFont": "Liberation Sans", "titleFontSize": 21, "titleFontWeight": "bold", "titleColor": "#000000", "titlePadding": -6}}
},
"spacing": {"row": 11, "column": 10.4},
"bounds": "flush",
"spec": {
  "width": 136,
  "height": 145,
  "layer": [
    {
      "transform": [{"filter": "isValid(datum.s)"}],
      "mark": {"type": "line", "interpolate": "step-after", "strokeWidth": 3.4, "strokeCap": "butt"},
      "encoding": {
        "x": {"field": "x", "type": "quantitative",
          "scale": {"domain": [-0.16, 1.15], "nice": false, "zero": false},
          "axis": {"values": [0, 0.25, 0.5, 0.75, 1], "title": null,
            "labelExpr": "datum.value == 0.25 || datum.value == 0.75 ? '' : format(datum.value, '.1f')",
            "domain": false, "grid": true,
            "gridColor": {"condition": {"test": "datum.value == 0.25 || datum.value == 0.75", "value": "#f4f4f4"}, "value": "#ebebeb"},
            "gridWidth": {"condition": {"test": "datum.value == 0.25 || datum.value == 0.75", "value": 0.7}, "value": 1.2},
            "tickOpacity": {"condition": {"test": "datum.value == 0.25 || datum.value == 0.75", "value": 0}, "value": 1},
            "tickColor": "#333333", "tickSize": 4, "tickWidth": 1.2,
            "labelFont": "Liberation Sans", "labelFontSize": 16, "labelFontWeight": "bold", "labelColor": "#000000", "labelPadding": 2}},
        "y": {"field": "y", "type": "quantitative",
          "scale": {"domain": [-0.05, 1.05], "nice": false, "zero": false},
          "axis": {"values": [0, 0.25, 0.5, 0.75, 1], "title": null,
            "labelExpr": "datum.value == 0.25 || datum.value == 0.75 ? '' : format(datum.value, '.1f')",
            "domain": false, "grid": true,
            "gridColor": {"condition": {"test": "datum.value == 0.25 || datum.value == 0.75", "value": "#f4f4f4"}, "value": "#ebebeb"},
            "gridWidth": {"condition": {"test": "datum.value == 0.25 || datum.value == 0.75", "value": 0.7}, "value": 1.2},
            "tickOpacity": {"condition": {"test": "datum.value == 0.25 || datum.value == 0.75", "value": 0}, "value": 1},
            "tickColor": "#333333", "tickSize": 5, "tickWidth": 1.2,
            "labelFont": "Liberation Sans", "labelFontSize": 16, "labelFontWeight": "bold", "labelColor": "#000000", "labelPadding": 3}},
        "color": {"field": "m", "type": "nominal",
          "scale": {"domain": ["AutoFOCUS", "B≠A", "Capella", "JaMoPP", "Train Bench\"", "Yakindu"], "range": ["#1B9E77", "#D95F02", "#7570B3", "#E7298A", "#66A61E", "#E6AB02"]},
          "legend": null},
        "detail": {"field": "s"}
      }
    },
    {
      "transform": [{"filter": "datum.k == 'c'"}],
      "mark": {"type": "rect", "fill": "#cccccc", "stroke": "#9a9a9a", "strokeWidth": 1},
      "encoding": {"x": {"datum": -0.16}, "x2": {"datum": 1.15}, "y": {"datum": 1.05}, "y2": {"datum": 1.308}}
    },
    {
      "transform": [{"filter": "datum.k == 'c'"}],
      "mark": {"type": "text", "font": "Liberation Sans", "fontSize": 16.5, "fontWeight": "bold", "color": "#1a1a1a"},
      "encoding": {"x": {"datum": 0.495}, "y": {"datum": 1.18}, "text": {"field": "m"}}
    },
    {
      "transform": [{"filter": "datum.k == 'r'"}],
      "mark": {"type": "rect", "fill": "#cccccc", "stroke": "#9a9a9a", "strokeWidth": 1},
      "encoding": {"x": {"datum": 1.15}, "x2": {"datum": 1.469}, "y": {"datum": -0.05}, "y2": {"datum": 1.05}}
    },
    {
      "transform": [{"filter": "datum.k == 'r'"}],
      "mark": {"type": "text", "font": "Liberation Sans", "fontSize": 16.5, "fontWeight": "bold", "color": "#1a1a1a", "angle": 90},
      "encoding": {"x": {"datum": 1.31}, "y": {"datum": 0.5}, "text": {"field": "t"}}
    },
    {
      "transform": [{"filter": "datum.k == 'L'"}],
      "mark": {"type": "rect", "fill": "#ffffff", "opacity": 0},
      "encoding": {"x": {"datum": -0.48}, "x2": {"datum": -0.17}, "y": {"datum": 0.2}, "y2": {"datum": 0.8}}
    },
    {
      "transform": [{"filter": "datum.k == 'B'"}],
      "mark": {"type": "rect", "fill": "#ffffff", "opacity": 0},
      "encoding": {"x": {"datum": 0.2}, "x2": {"datum": 0.8}, "y": {"datum": -0.308}, "y2": {"datum": -0.06}}
    }
  ]
}
}
